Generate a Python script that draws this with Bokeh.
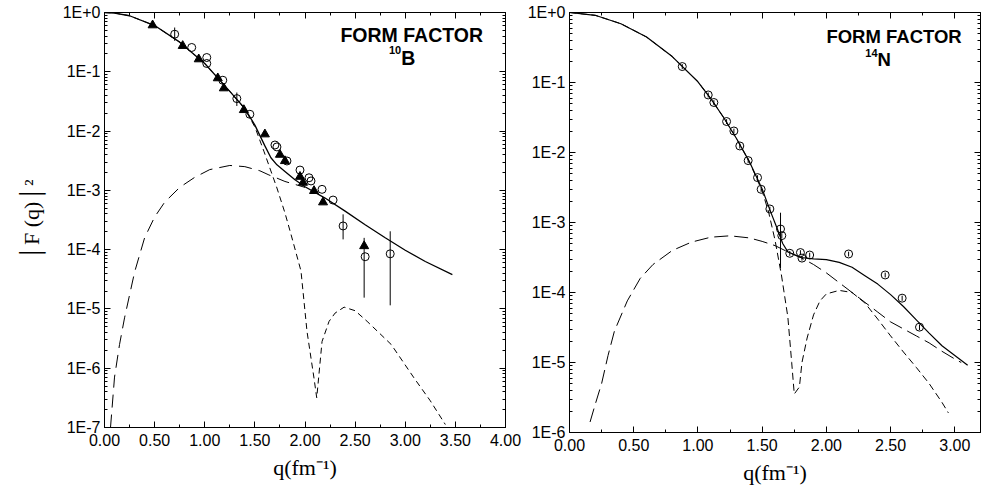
from bokeh.plotting import figure
from bokeh.layouts import row
from bokeh.models import (Range1d, FixedTicker, LinearAxis, LogAxis,
                          CustomJSTickFormatter, NumeralTickFormatter, Label)
from bokeh.embed import file_html
from bokeh.resources import INLINE

# ---------------- data: left panel (10B) ----------------
b_tri_q = [0.48, 0.78, 0.94, 1.13, 1.19, 1.39, 1.60, 1.75, 1.80, 1.95, 1.98, 2.09, 2.18, 2.59]
b_tri_f = [0.61, 0.274, 0.163, 0.078, 0.0528, 0.0227, 0.00883, 0.0040, 0.00313, 0.0017,
           0.00135, 0.00098, 0.00063, 0.000115]
b_circ_q = [0.70, 0.87, 1.02, 1.02, 1.18, 1.32, 1.45, 1.70, 1.72, 1.82, 1.95, 2.04, 2.06,
            2.17, 2.28, 2.38, 2.60, 2.85]
b_circ_f = [0.43, 0.257, 0.174, 0.138, 0.072, 0.0353, 0.0192, 0.00582, 0.0054, 0.00313,
            0.0022, 0.00163, 0.00144, 0.00104, 0.000686, 0.000251, 7.6e-5, 8.5e-5]
b_err_q = [0.70, 1.32, 2.38, 2.59, 2.85]
b_err_lo = [0.333, 0.0265, 1.49e-4, 1.55e-5, 1.15e-5]
b_err_hi = [0.558, 0.0447, 3.94e-4, 1.58e-4, 2.04e-4]

b_total_q = [0, 0.1, 0.25, 0.5, 0.75, 1.0, 1.25, 1.4, 1.5, 1.6, 1.66, 1.72, 1.8, 1.9, 2.0,
             2.2, 2.4, 2.6, 2.8, 3.0, 3.2, 3.47]
b_total_log = [0, -0.009, -0.055, -0.22, -0.50, -0.86, -1.33, -1.62, -1.90, -2.25, -2.45,
               -2.57, -2.68, -2.82, -2.94, -3.13, -3.35, -3.58, -3.80, -4.01, -4.20, -4.42]
b_c0_q = [0, 0.1, 0.25, 0.5, 0.75, 1.0, 1.25, 1.4, 1.5, 1.59, 1.72, 1.8, 1.86, 1.96, 2.02,
          2.09, 2.117, 2.17, 2.24, 2.3, 2.39, 2.5, 2.62, 2.86, 3.09, 3.25, 3.4]
b_c0_log = [0, -0.009, -0.055, -0.22, -0.50, -0.86, -1.33, -1.63, -1.93, -2.34, -2.96,
            -3.38, -3.74, -4.36, -5.38, -6.17, -6.5, -5.55, -5.21, -5.07, -4.97, -5.03,
            -5.21, -5.6, -6.17, -6.55, -6.95]
b_c2_q = [0.06, 0.1, 0.15, 0.2, 0.3, 0.4, 0.5, 0.6, 0.75, 0.9, 1.05, 1.25, 1.4, 1.55,
          1.64, 1.7, 1.8, 1.9, 2.0]
b_c2_log = [-7.0, -6.15, -5.6, -5.15, -4.38, -3.8, -3.45, -3.2, -2.95, -2.78, -2.65,
            -2.58, -2.6, -2.67, -2.74, -2.78, -2.85, -2.9, -2.95]

# ---------------- data: right panel (14N) ----------------
n_q = [0.878, 1.08, 1.124, 1.223, 1.28, 1.326, 1.391, 1.464, 1.492, 1.56, 1.643, 1.653,
       1.715, 1.798, 1.81, 1.87, 2.173, 2.458, 2.59, 2.725]
n_f = [0.169, 0.0664, 0.0518, 0.0277, 0.0203, 0.0124, 0.00766, 0.00438, 0.00298, 0.00156,
       0.000807, 0.00065, 0.000363, 0.000372, 0.00031, 0.000343, 0.000355, 0.000178,
       8.3e-5, 3.2e-5]
n_err_lo = [0.155, 0.061, 0.0476, 0.0255, 0.0187, 0.0114, 0.00705, 0.00403, 0.00274,
            0.00144, 0.000224, 0.000598, 0.000334, 0.000342, 0.000285, 0.000316,
            0.000327, 0.000164, 7.6e-5, 2.9e-5]
n_err_hi = [0.183, 0.0718, 0.056, 0.0299, 0.0219, 0.0134, 0.00827, 0.00473, 0.00322,
            0.00168, 0.00138, 0.000702, 0.000392, 0.000402, 0.000335, 0.00037,
            0.000383, 0.000192, 9.0e-5, 3.5e-5]

n_total_q = [0, 0.2, 0.4, 0.6, 0.8, 1.0, 1.1, 1.2, 1.3, 1.4, 1.5, 1.56, 1.62, 1.66, 1.7,
             1.8, 1.9, 2.0, 2.1, 2.2, 2.3, 2.4, 2.5, 2.6, 2.7, 2.8, 2.9, 3.0, 3.1]
n_total_log = [0, -0.04, -0.16, -0.35, -0.63, -0.99, -1.23, -1.5, -1.8, -2.13, -2.52,
               -2.82, -3.1, -3.3, -3.42, -3.50, -3.52, -3.53, -3.57, -3.64, -3.76, -3.88,
               -4.03, -4.2, -4.39, -4.58, -4.76, -4.9, -5.04]
n_c0_q = [0, 0.2, 0.4, 0.6, 0.8, 1.0, 1.1, 1.2, 1.3, 1.4, 1.5, 1.55, 1.6, 1.65, 1.7,
          1.73, 1.75, 1.79, 1.81, 1.85, 1.9, 1.95, 2.0, 2.1, 2.2, 2.3, 2.4, 2.5, 2.6, 2.7,
          2.8, 2.9, 2.95]
n_c0_log = [0, -0.04, -0.16, -0.35, -0.63, -0.99, -1.23, -1.5, -1.8, -2.13, -2.55, -2.85,
            -3.25, -3.75, -4.35, -5.0, -5.45, -5.35, -5.0, -4.65, -4.32, -4.12, -4.02,
            -3.97, -4.0, -4.15, -4.38, -4.62, -4.85, -5.07, -5.3, -5.57, -5.72]
n_c2_q = [0.16, 0.2, 0.25, 0.3, 0.35, 0.45, 0.55, 0.65, 0.8, 0.95, 1.1, 1.25, 1.4, 1.5,
          1.6, 1.7, 1.8, 1.9, 2.0, 2.1, 2.2, 2.3, 2.4, 2.5, 2.6, 2.7, 2.8, 2.9, 3.0, 3.05]
n_c2_log = [-5.85, -5.6, -5.3, -4.9, -4.55, -4.12, -3.8, -3.6, -3.4, -3.28, -3.21, -3.19,
            -3.22, -3.27, -3.33, -3.42, -3.5, -3.6, -3.72, -3.86, -4.0, -4.14, -4.28, -4.42,
            -4.52, -4.62, -4.72, -4.84, -4.95, -5.0]

# ---------------- tick labels ----------------
b_ylabels = ["1E+0", "1E-1", "1E-2", "1E-3", "1E-4", "1E-5", "1E-6", "1E-7"]
n_ylabels = ["1E+0", "1E-1", "1E-2", "1E-3", "1E-4", "1E-5", "1E-6"]
b_xticks = [0, 0.5, 1.0, 1.5, 2.0, 2.5, 3.0, 3.5, 4.0]
n_xticks = [0, 0.5, 1.0, 1.5, 2.0, 2.5, 3.0]

TICK_FONT = "Liberation Sans"
SERIF = "Liberation Serif"


def pw(vals):
    return [10 ** v for v in vals]


def style_axis(ax, show_labels):
    ax.axis_line_color = "black"
    ax.axis_line_width = 1
    ax.major_tick_in = 6
    ax.major_tick_out = 0
    ax.minor_tick_in = 3
    ax.minor_tick_out = 0
    ax.major_tick_line_color = "black"
    ax.minor_tick_line_color = "black"
    ax.major_label_text_font = TICK_FONT
    ax.major_label_text_font_size = "16px"
    ax.major_label_text_color = "black"
    ax.axis_label_text_color = "black"
    if not show_labels:
        ax.formatter = CustomJSTickFormatter(code="return '';")
        ax.major_label_standoff = 0
        ax.major_label_text_font_size = "0px"
        ax.axis_label_standoff = 0


def make_fig(fw, fh, mb_left, mb_right, mb_top, mb_bottom, xmax, ymin, xticks, ylabels):
    p = figure(frame_width=fw, frame_height=fh, x_range=Range1d(0, xmax),
               y_range=Range1d(ymin, 1.0), y_axis_type="log",
               output_backend="svg", toolbar_location=None,
               min_border_left=mb_left, min_border_right=mb_right,
               min_border_top=mb_top, min_border_bottom=mb_bottom)
    p.grid.visible = False
    p.outline_line_color = "black"
    p.outline_line_width = 1
    p.background_fill_color = "white"
    p.border_fill_color = "white"
    nlab = len(ylabels)
    xminor = [t + 0.25 for t in xticks[:-1]]
    yt = [10.0 ** (-k) for k in range(nlab)]
    ym = [m * 10.0 ** (-k) for k in range(1, nlab) for m in range(2, 10)]
    xt = FixedTicker(ticks=xticks, minor_ticks=xminor)
    ytk = FixedTicker(ticks=yt, minor_ticks=ym)
    bottom = p.xaxis[0]
    left = p.yaxis[0]
    bottom.ticker = xt
    bottom.formatter = NumeralTickFormatter(format="0.00")
    left.ticker = ytk
    left.formatter = CustomJSTickFormatter(
        args=dict(labels=ylabels),
        code="const i = Math.round(-Math.log10(tick)); return labels[i] ?? '';")
    style_axis(bottom, True)
    bottom.major_label_standoff = 6
    style_axis(left, True)
    left.major_label_standoff = 4
    bottom.axis_label = "q(fm\u207b\u00b9)"
    bottom.axis_label_text_font = SERIF
    bottom.axis_label_text_font_style = "normal"
    bottom.axis_label_text_font_size = "22px"
    bottom.axis_label_standoff = 6
    # mirrored axes (ticks only)
    top = LinearAxis(ticker=xt)
    style_axis(top, False)
    p.add_layout(top, "above")
    right = LogAxis(ticker=ytk)
    style_axis(right, False)
    p.add_layout(right, "right")
    return p, bottom, left


def add_title(p, xc, ybase, iso, xsym, ysup, sym, size):
    p.add_layout(Label(x=xc, y=ybase, text="FORM FACTOR", text_align="center",
                       text_baseline="alphabetic", text_font=TICK_FONT, text_color="black",
                       text_font_style="bold", text_font_size=size))
    p.add_layout(Label(x=xsym, y=10 ** ysup[1], text=sym, text_align="left",
                       text_baseline="alphabetic", text_font=TICK_FONT, text_color="black",
                       text_font_style="bold", text_font_size=size))
    p.add_layout(Label(x=xsym, y=10 ** ysup[0], text=iso, text_align="right",
                       text_baseline="alphabetic", text_font=TICK_FONT, text_color="black",
                       text_font_style="bold", text_font_size="11px"))


# ---------------- left figure ----------------
p1, b1, l1 = make_fig(401, 415, 104, 18, 12, 61, 4.0, 1e-7, b_xticks, b_ylabels)
l1.axis_label = "\u2502F (q)\u2502\u00b2"
l1.axis_label_text_font = SERIF
l1.axis_label_text_font_style = "normal"
l1.axis_label_text_font_size = "22px"
l1.axis_label_standoff = 16

p1.line(b_c2_q, pw(b_c2_log), line_color="black", line_width=1, line_dash="13 7")
p1.line(b_c0_q, pw(b_c0_log), line_color="black", line_width=1, line_dash="6 4")
p1.line(b_total_q, pw(b_total_log), line_color="black", line_width=1.3)
p1.segment(x0=b_err_q, y0=b_err_lo, x1=b_err_q, y1=b_err_hi, line_color="black", line_width=1)
p1.scatter(b_circ_q, b_circ_f, marker="circle", size=8, fill_alpha=0,
           line_color="black", line_width=1)
p1.scatter(b_tri_q, b_tri_f, marker="triangle", size=9, fill_color="black",
           line_color="black")
add_title(p1, 3.065, 10 ** -0.374, "10", 2.96, (-0.63, -0.76), "B", "19.5px")

# ---------------- right figure ----------------
p2, b2, l2 = make_fig(411, 420, 46, 1, 9, 59, 3.2, 1e-6, n_xticks, n_ylabels)

p2.line(n_c2_q, pw(n_c2_log), line_color="black", line_width=1, line_dash="14 6")
p2.line(n_c0_q, pw(n_c0_log), line_color="black", line_width=1, line_dash="7 4")
p2.line(n_total_q, pw(n_total_log), line_color="black", line_width=1.2)
p2.segment(x0=n_q, y0=n_err_lo, x1=n_q, y1=n_err_hi, line_color="black", line_width=1)
p2.scatter(n_q, n_f, marker="circle", size=8, fill_alpha=0, line_color="black",
           line_width=1)
add_title(p2, 2.527, 10 ** -0.346, "14", 2.398, (-0.575, -0.67), "N", "18.5px")

layout = row(p1, p2)
open("out.html", "w").write(file_html(layout, INLINE))
